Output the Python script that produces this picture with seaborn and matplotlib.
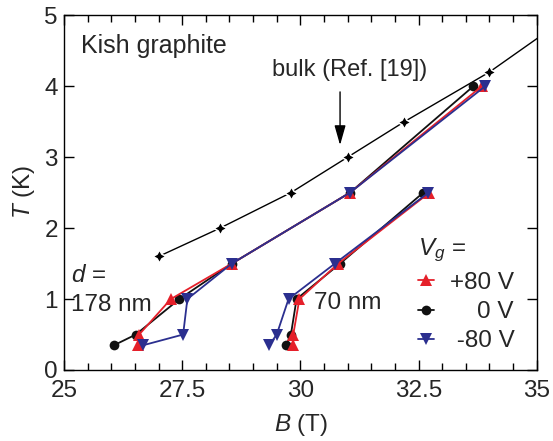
import numpy as np
import pandas as pd
import matplotlib
matplotlib.use("Agg")
import matplotlib.pyplot as plt
from matplotlib.lines import Line2D
import seaborn as sns

# ---- data ----
bulk_B = [27.0, 28.3, 29.8, 31.0, 32.2, 34.0]
bulk_T = [1.6, 2.0, 2.5, 3.0, 3.5, 4.2]
bulk_ext_B = [34.0, 35.3]
bulk_ext_T = [4.2, 4.81]

T_levels = [0.35, 0.5, 1.0, 1.5, 2.5, 4.0]
d178_p80 = [26.57, 26.59, 27.26, 28.55, 31.05, 33.84]
d178_0 = [26.06, 26.52, 27.44, 28.55, 31.05, 33.66]
d178_m80 = [26.68, 27.52, 27.61, 28.55, 31.05, 33.91]

T70_levels = [0.35, 0.5, 1.0, 1.5, 2.5]
d70_p80 = [29.85, 29.85, 29.98, 30.80, 32.73]
d70_0 = [29.70, 29.80, 29.92, 30.84, 32.60]
d70_m80 = [29.34, 29.50, 29.75, 30.73, 32.71]

labels = ["+80 V", "0 V", "-80 V"]
legend_labels = ["+80 V", "    0 V", " -80 V"]
colors = {"+80 V": "#e5202a", "0 V": "#111111", "-80 V": "#2b2f8f"}
markers = {"+80 V": "^", "0 V": "o", "-80 V": "v"}

x_ticks = [25, 27.5, 30, 32.5, 35]
x_ticklabels = ["25", "27.5", "30", "32.5", "35"]
y_ticks = [0, 1, 2, 3, 4, 5]

# ---- style ----
sns.set_style("ticks")
plt.rcParams["font.family"] = ["Liberation Sans", "DejaVu Sans"]
plt.rcParams["mathtext.fontset"] = "custom"
plt.rcParams["mathtext.rm"] = "Liberation Sans"
plt.rcParams["mathtext.it"] = "Liberation Sans:italic"
plt.rcParams["axes.linewidth"] = 1.0

FS = 17.5

fig = plt.figure(figsize=(5.53, 4.41), dpi=100)
L, R, TOP, BOT = 64, 536.7, 15.3, 370
W, H = R - L, BOT - TOP
ax = fig.add_axes([L / 553, 1 - BOT / 441, W / 553, H / 441])


def axx(px):
    return (px - L) / W


def axy(py):
    return (BOT - py) / H


# bulk
sns.lineplot(x=bulk_ext_B, y=bulk_ext_T, ax=ax, color="black", lw=1.0, sort=False)
sns.lineplot(x=bulk_B, y=bulk_T, ax=ax, color="black", lw=1.0, sort=False,
             marker=(4, 1, 0), markersize=9.5, markeredgewidth=1.1)

rows = []
for lab, vals in zip(labels, [d178_p80, d178_0, d178_m80]):
    for b, t in zip(vals, T_levels):
        rows.append(dict(B=b, T=t, Vg=lab, d="178"))
for lab, vals in zip(labels, [d70_p80, d70_0, d70_m80]):
    for b, t in zip(vals, T70_levels):
        rows.append(dict(B=b, T=t, Vg=lab, d="70"))
df = pd.DataFrame(rows)

for lab in ["0 V", "+80 V", "-80 V"]:
    for d in ["178", "70"]:
        sub = df[(df.Vg == lab) & (df.d == d)]
        ms = 7 if lab == "0 V" else 8
        sns.lineplot(data=sub, x="B", y="T", ax=ax, sort=False, estimator=None,
                     color=colors[lab], marker=markers[lab], markersize=ms,
                     markeredgewidth=0, lw=1.3)

ax.set_xlim(25, 35)
ax.set_ylim(0, 5)
ax.set_xticks(x_ticks)
ax.set_xticklabels(x_ticklabels)
ax.set_xticks(np.arange(25, 35.01, 0.5), minor=True)
ax.set_yticks(y_ticks)
ax.tick_params(which="both", direction="in", top=True, right=True,
               labelsize=FS, width=1.0, color="black")
ax.tick_params(which="major", length=7)
ax.tick_params(which="minor", length=5)
ax.tick_params(axis="x", which="major", pad=7)
ax.tick_params(axis="y", which="major", pad=4.5)
for s in ax.spines.values():
    s.set_visible(True)
    s.set_color("black")

ax.set_xlabel("$B$ (T)", fontsize=FS)
ax.set_ylabel("$T$ (K)", fontsize=FS)
ax.xaxis.set_label_coords(axx(301), axy(425))
ax.xaxis.label.set_va("center")
ax.yaxis.set_label_coords(axx(24), axy(191.5))
ax.yaxis.label.set_va("center")

# annotations
ax.text(axx(81), axy(46.5), "Kish graphite", transform=ax.transAxes, fontsize=18,
        ha="left", va="center")
ax.text(axx(350), axy(70), "bulk (Ref. [19])", transform=ax.transAxes, fontsize=17,
        ha="center", va="center")
ax.annotate("", xy=(30.84, 3.17), xytext=(30.84, 3.92),
            arrowprops=dict(arrowstyle="-|>,head_length=0.6,head_width=0.17",
                            color="black", lw=1.0, mutation_scale=20,
                            shrinkA=0, shrinkB=0))
ax.text(axx(71), axy(276), "$d$ =", transform=ax.transAxes,
        fontsize=FS, ha="left", va="center")
ax.text(axx(71), axy(305), "178 nm", transform=ax.transAxes,
        fontsize=FS, ha="left", va="center")
ax.text(axx(314), axy(302.7), "70 nm", transform=ax.transAxes,
        fontsize=FS, ha="left", va="center")

handles = [Line2D([], [], color=colors[l], marker=markers[l], lw=1.3,
                  markersize=(7 if l == "0 V" else 8), markeredgewidth=0)
           for l in labels]
leg = ax.legend(handles, legend_labels, title="$V_g$ =", frameon=False,
                fontsize=FS, title_fontsize=FS, alignment="left",
                handlelength=0.66, handletextpad=0.65, labelspacing=0.3,
                borderpad=0, borderaxespad=0,
                loc="upper left",
                bbox_to_anchor=(axx(418), axy(237)))

fig.savefig("out.png", dpi=100)
